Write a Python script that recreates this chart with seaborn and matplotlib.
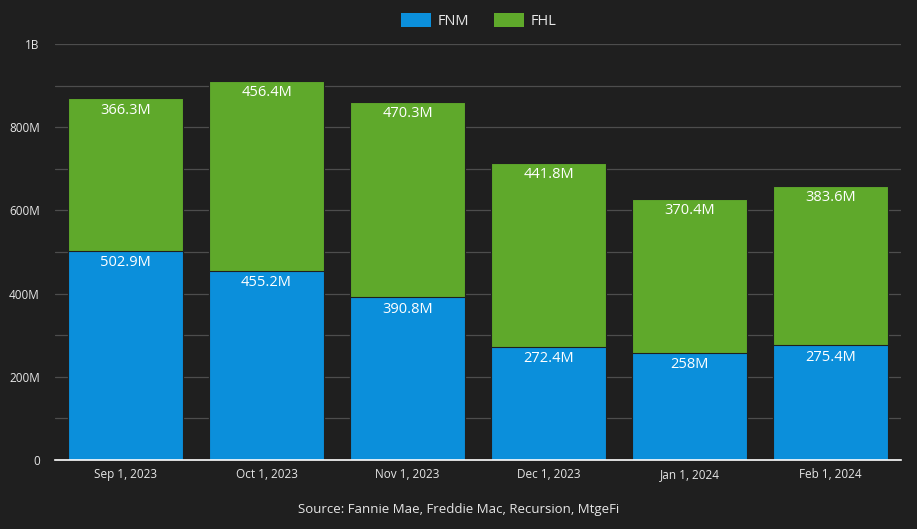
import matplotlib
matplotlib.use("Agg")
import matplotlib.pyplot as plt
import seaborn as sns
import pandas as pd
import numpy as np
from matplotlib.ticker import MultipleLocator, FuncFormatter
from matplotlib.patches import Patch

dates = ["Sep 1, 2023", "Oct 1, 2023", "Nov 1, 2023", "Dec 1, 2023", "Jan 1, 2024", "Feb 1, 2024"]
fnm = [502.9, 455.2, 390.8, 272.4, 258.0, 275.4]
fhl = [366.3, 456.4, 470.3, 441.8, 370.4, 383.6]
fnm_labels = ["502.9M", "455.2M", "390.8M", "272.4M", "258M", "275.4M"]
fhl_labels = ["366.3M", "456.4M", "470.3M", "441.8M", "370.4M", "383.6M"]

BG = "#1f1f1f"
BLUE = "#0b8fdb"
GREEN = "#5fa92b"

sns.set_theme(style="dark")
plt.rcParams["font.family"] = ["Open Sans", "DejaVu Sans"]

fig = plt.figure(figsize=(9.17, 5.29), dpi=100, facecolor=BG)
ax = fig.add_axes([55/917, 1-460/529, 846/917, 416/529])
ax.set_facecolor(BG)

df = pd.DataFrame({"date": dates, "FNM": fnm, "FHL": fhl})
df["total"] = df["FNM"] + df["FHL"]

sns.barplot(data=df, x="date", y="total", color=GREEN, saturation=1, width=0.81, ax=ax,
            edgecolor=BG, linewidth=0.8, zorder=2, legend=False)
sns.barplot(data=df, x="date", y="FNM", color=BLUE, saturation=1, width=0.81, ax=ax,
            edgecolor=BG, linewidth=0.8, zorder=3, legend=False)

for i in range(len(dates)):
    ax.text(i, fnm[i] - 11, fnm_labels[i], ha="center", va="top", color="white", fontsize=10.5, zorder=5)
    ax.text(i, fnm[i] + fhl[i] - 11, fhl_labels[i], ha="center", va="top", color="white", fontsize=10.5, zorder=5)

ax.set_ylim(0, 1000)
ax.set_xlim(-0.5, 5.5)
ax.yaxis.set_major_locator(MultipleLocator(200))
ax.yaxis.set_minor_locator(MultipleLocator(100))
ax.yaxis.set_major_formatter(FuncFormatter(lambda v, p: "1B" if v >= 1000 else ("0" if v == 0 else f"{int(v)}M")))
ax.grid(which="both", axis="y", color="#4d4d4d", linewidth=0.9, zorder=0)
ax.grid(axis="x", visible=False)
ax.set_axisbelow(True)
ax.tick_params(axis="y", which="both", length=0, colors="#e6e6e6", labelsize=8.5, pad=11)
ax.tick_params(axis="x", length=0, colors="#e6e6e6", labelsize=8.5, pad=6)
ax.set_xlabel("")
ax.set_ylabel("")
for s in ["top", "right", "left"]:
    ax.spines[s].set_visible(False)
ax.spines["bottom"].set_color("white")
ax.spines["bottom"].set_linewidth(1.2)
ax.spines["bottom"].set_zorder(6)

handles = [Patch(facecolor=BLUE, edgecolor="none", label="FNM"),
           Patch(facecolor=GREEN, edgecolor="none", label="FHL")]
fig.legend(handles=handles, loc="center", bbox_to_anchor=(479/917, 1-21/529), ncol=2, frameon=False,
           fontsize=10.5, labelcolor="#e6e6e6", handlelength=2.05, handleheight=1.1, columnspacing=1.7,
           handletextpad=0.45)

fig.text(0.5, 1-510/529, "Source: Fannie Mae, Freddie Mac, Recursion, MtgeFi", ha="center", va="center",
         color="#e6e6e6", fontsize=9.5)

fig.savefig("out.png", dpi=100, facecolor=BG)
